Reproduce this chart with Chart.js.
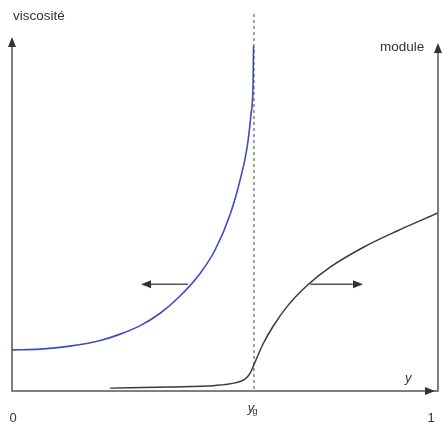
<!DOCTYPE html>
<html>
<head>
<meta charset="utf-8">
<script src="https://cdn.jsdelivr.net/npm/chart.js@4/dist/chart.umd.min.js"></script>
<style>
  html, body { margin: 0; padding: 0; background: #fff; }
  #wrap { width: 442px; height: 427px; }
</style>
</head>
<body>
<div id="wrap"><canvas id="chart" width="442" height="427"></canvas></div>
<script>
// gel point (x position of the dashed line), fraction of the y axis 0..1
const yGel = 0.568;

// viscosity curve (blue), diverges at the gel point
const viscX = [0, 0.066, 0.136, 0.207, 0.254, 0.300, 0.347, 0.394, 0.441, 0.477, 0.512, 0.535, 0.552, 0.561, 0.566, 0.567];
const viscY = [10.7, 10.9, 11.7, 13.2, 14.9, 17.1, 20.4, 25.0, 31.0, 37.4, 46.8, 55.8, 64.8, 73.5, 82.2, 91.7];

// modulus curve (black), grows after the gel point
const modX = [0.230, 0.371, 0.477, 0.523, 0.547, 0.559, 0.570, 0.589, 0.613, 0.646, 0.692, 0.746, 0.824, 0.904, 1.0];
const modY = [0.5, 0.8, 1.2, 1.9, 2.9, 4.5, 7.3, 12.2, 17.0, 22.3, 27.8, 32.7, 38.0, 42.4, 47.2];

// labels under the x axis
const xTickValues = [0, yGel, 1];
const xTickLabels = ['0', 'y', '1'];

const toPoints = (xs, ys) => xs.map((x, i) => ({ x: x, y: ys[i] }));

// draws the axes, arrows, dashed line and the texts
const decor = {
  id: 'decor',
  afterDatasetsDraw(chart) {
    const ctx = chart.ctx;
    const sx = chart.scales.x;
    const sy = chart.scales.y;
    const left = sx.getPixelForValue(0);
    const right = sx.getPixelForValue(1);
    const bottom = sy.getPixelForValue(0) + 1;

    const head = (x, y, dir, size) => {
      ctx.save();
      ctx.translate(x, y);
      ctx.rotate(dir);
      ctx.beginPath();
      ctx.moveTo(0, 0);
      ctx.lineTo(-size, -size * 0.4);
      ctx.lineTo(-size, size * 0.4);
      ctx.closePath();
      ctx.fill();
      ctx.restore();
    };

    ctx.save();
    ctx.strokeStyle = '#555';
    ctx.fillStyle = '#333';
    ctx.lineWidth = 1.5;

    // axes
    ctx.beginPath();
    ctx.moveTo(left, 42);
    ctx.lineTo(left, bottom);
    ctx.lineTo(right, bottom);
    ctx.lineTo(right, 48);
    ctx.stroke();
    head(left, 37, -Math.PI / 2, 10);
    head(right, 43, -Math.PI / 2, 10);
    head(right - 3, bottom, 0, 10);

    // dashed line at the gel point
    const xg = sx.getPixelForValue(yGel);
    ctx.lineWidth = 1;
    ctx.strokeStyle = '#444';
    ctx.setLineDash([3, 3]);
    ctx.beginPath();
    ctx.moveTo(xg, 14);
    ctx.lineTo(xg, bottom);
    ctx.stroke();
    ctx.setLineDash([]);

    // arrows pointing at the axis of each curve
    const ay = sy.getPixelForValue(28.2);
    ctx.strokeStyle = '#555';
    ctx.lineWidth = 1.3;
    ctx.beginPath();
    ctx.moveTo(sx.getPixelForValue(0.413), ay);
    ctx.lineTo(sx.getPixelForValue(0.320), ay);
    ctx.moveTo(sx.getPixelForValue(0.700), ay);
    ctx.lineTo(sx.getPixelForValue(0.800), ay);
    ctx.stroke();
    head(sx.getPixelForValue(0.303), ay, Math.PI, 10);
    head(sx.getPixelForValue(0.824), ay, 0, 10);

    // texts
    ctx.fillStyle = '#333';
    ctx.textBaseline = 'middle';
    ctx.font = '13.5px "Liberation Sans", Arial, sans-serif';
    ctx.textAlign = 'left';
    ctx.fillText('viscosité', 13, 16);
    ctx.fillText('module', 380, 47);

    ctx.font = 'italic 13px "Liberation Sans", Arial, sans-serif';
    ctx.fillText('y', 405, 378);

    ctx.font = '13px "Liberation Sans", Arial, sans-serif';
    ctx.textAlign = 'center';
    ctx.fillText(xTickLabels[0], sx.getPixelForValue(xTickValues[0]) + 1, 418);
    ctx.fillText(xTickLabels[2], sx.getPixelForValue(xTickValues[2]) - 7, 418);
    ctx.font = 'italic 13px "Liberation Sans", Arial, sans-serif';
    ctx.fillText(xTickLabels[1], sx.getPixelForValue(xTickValues[1]) - 3, 408);
    ctx.font = '9px "Liberation Sans", Arial, sans-serif';
    ctx.fillText('g', sx.getPixelForValue(xTickValues[1]) + 1, 412);
    ctx.restore();
  }
};

const ctx = document.getElementById('chart').getContext('2d');
const chart = new Chart(ctx, {
  type: 'line',
  data: {
    datasets: [{
      label: 'viscosité',
      data: toPoints(viscX, viscY),
      borderColor: '#3d4fb8',
      borderWidth: 1.6,
      pointRadius: 0,
      cubicInterpolationMode: 'monotone',
      fill: false
    }, {
      label: 'module',
      data: toPoints(modX, modY),
      borderColor: '#3a3a3a',
      borderWidth: 1.5,
      pointRadius: 0,
      cubicInterpolationMode: 'monotone',
      fill: false
    }]
  },
  options: {
    responsive: false,
    animation: false,
    layout: { padding: { left: 12, right: 4, top: 15, bottom: 37 } },
    plugins: { legend: { display: false }, tooltip: { enabled: false } },
    scales: {
      x: { type: 'linear', min: 0, max: 1, display: false },
      y: { type: 'linear', min: 0, max: 100, display: false }
    }
  },
  plugins: [decor]
});
</script>
</body>
</html>
